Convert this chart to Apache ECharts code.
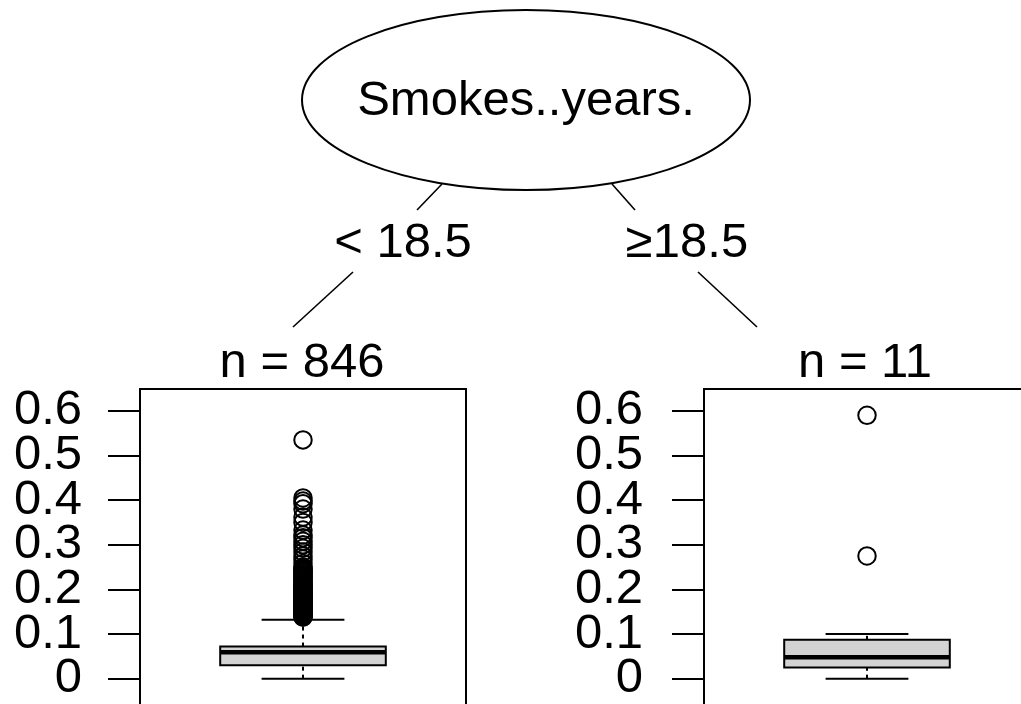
<!DOCTYPE html>
<html>
<head>
<meta charset="utf-8">
<title>Smokes..years. tree</title>
<script src="https://cdn.jsdelivr.net/npm/echarts@6/dist/echarts.min.js"></script>
<style>
  html, body { margin: 0; padding: 0; background: #fff; }
  #chart { width: 1021px; height: 704px; }
</style>
</head>
<body>
<div id="chart"></div>
<script>
// Split variable and branch labels of the root node
const splitVariable = 'Smokes..years.';
const branchLabels = ['< 18.5', '\u226518.5'];

// Terminal nodes: sizes and boxplot summaries [min, q1, median, q3, max]
const nodeSizes = [846, 11];
const leftBox = [0, 0.030, 0.059, 0.072, 0.132];
const rightBox = [0, 0.025, 0.048, 0.087, 0.100];

// Points beyond the whiskers
const leftOutliers = [
  0.535, 0.405, 0.398, 0.392, 0.380, 0.362, 0.350, 0.333, 0.322, 0.316,
  0.308, 0.300, 0.292, 0.284, 0.275, 0.268, 0.258, 0.250, 0.247, 0.244,
  0.241, 0.238, 0.236, 0.233, 0.230, 0.227, 0.225, 0.222, 0.219, 0.217,
  0.214, 0.212, 0.209, 0.207, 0.204, 0.202, 0.200, 0.198, 0.195, 0.193,
  0.191, 0.189, 0.187, 0.185, 0.183, 0.181, 0.179, 0.177, 0.175, 0.173,
  0.171, 0.169, 0.167, 0.166, 0.164, 0.162, 0.160, 0.158, 0.157, 0.155,
  0.153, 0.151, 0.150, 0.148, 0.146, 0.145, 0.143, 0.142, 0.140, 0.139,
  0.138
];
const rightOutliers = [0.590, 0.275];

// Y axis tick positions
const yTicks = [0, 0.1, 0.2, 0.3, 0.4, 0.5, 0.6];

// Common y scale for both terminal panels: data range padded by 10%
const allValues = leftBox.concat(rightBox, leftOutliers, rightOutliers);
const dataMin = Math.min.apply(null, allValues);
const dataMax = Math.max.apply(null, allValues);
const pad = 0.1 * (dataMax - dataMin);
const yLo = dataMin - pad;
const yHi = dataMax + pad;

// The labels are taller than the tick spacing, so the ticks are split over two
// coincident axes (even / odd ticks) to keep every label visible.
const evenTicks = yTicks.filter((v, i) => i % 2 === 0);
const oddTicks = yTicks.filter((v, i) => i % 2 === 1);

const FONT = 'Liberation Sans, Arial, Helvetica, sans-serif';
const INK = '#000';
const TEXT_FONT = '49px ' + FONT;

// Boxplot with half-width staples and dashed whiskers
function renderBox(params, api) {
  const c = api.value(0);
  const pMin = api.coord([c, api.value(1)]);
  const pQ1 = api.coord([c, api.value(2)]);
  const pMed = api.coord([c, api.value(3)]);
  const pQ3 = api.coord([c, api.value(4)]);
  const pMax = api.coord([c, api.value(5)]);
  const band = api.size([1, 0])[0];
  const bw = band * 0.508;
  const x = pMin[0];
  const half = bw / 2;
  const staple = bw / 4;
  const dash = { stroke: INK, lineWidth: 2, lineDash: [4, 4] };
  const solid = { stroke: INK, lineWidth: 2 };
  return {
    type: 'group',
    children: [
      { type: 'line', shape: { x1: x, y1: pMin[1], x2: x, y2: pQ1[1] }, style: dash },
      { type: 'line', shape: { x1: x, y1: pQ3[1], x2: x, y2: pMax[1] }, style: dash },
      { type: 'line', shape: { x1: x - staple, y1: pMin[1], x2: x + staple, y2: pMin[1] }, style: solid },
      { type: 'line', shape: { x1: x - staple, y1: pMax[1], x2: x + staple, y2: pMax[1] }, style: solid },
      { type: 'rect', shape: { x: x - half, y: pQ3[1], width: bw, height: pQ1[1] - pQ3[1] },
        style: { fill: '#d3d3d3', stroke: INK, lineWidth: 2 } },
      { type: 'line', shape: { x1: x - half, y1: pMed[1], x2: x + half, y2: pMed[1] },
        style: { stroke: INK, lineWidth: 4.5 } }
    ]
  };
}

function yAxisFor(gridIndex, ticks, labelMargin) {
  return {
    type: 'value', gridIndex: gridIndex, position: 'left', offset: 0,
    min: yLo, max: yHi,
    axisLine: { show: true, lineStyle: { color: INK, width: 2 } },
    axisTick: { show: true, length: 32, lineStyle: { color: INK, width: 2 }, customValues: ticks },
    axisLabel: { show: true, customValues: ticks, margin: labelMargin, color: INK,
      fontSize: 49, fontFamily: FONT, showMinLabel: true, showMaxLabel: true },
    splitLine: { show: false }
  };
}

function xAxisFor(gridIndex) {
  return {
    type: 'category', gridIndex: gridIndex, data: ['node'],
    axisLine: { show: false }, axisTick: { show: false }, axisLabel: { show: false },
    splitLine: { show: false }
  };
}

function outlierSeries(xIndex, yIndex, values) {
  return {
    type: 'scatter', xAxisIndex: xIndex, yAxisIndex: yIndex,
    symbol: 'circle', symbolSize: 17.5, z: 5,
    itemStyle: { color: 'rgba(0,0,0,0)', borderColor: INK, borderWidth: 2, opacity: 1 },
    data: values.map(v => [0, v]),
    silent: true
  };
}

function boxSeries(xIndex, yIndex, stats) {
  return {
    type: 'custom', xAxisIndex: xIndex, yAxisIndex: yIndex,
    renderItem: renderBox, z: 3, silent: true,
    encode: { x: 0, y: [1, 2, 3, 4, 5] },
    data: [[0].concat(stats)]
  };
}

const label = (t, x, y) => ({
  type: 'text', x: x, y: y,
  style: { text: t, fill: INK, font: TEXT_FONT, align: 'center', verticalAlign: 'middle' }
});
const seg = (x1, y1, x2, y2) => ({
  type: 'line', shape: { x1: x1, y1: y1, x2: x2, y2: y2 },
  style: { stroke: INK, lineWidth: 1.6 }
});

const chart = echarts.init(document.getElementById('chart'), null, { renderer: 'canvas' });

chart.setOption({
  backgroundColor: '#fff',
  animation: false,
  grid: [
    { left: 140, right: 555, top: 389, bottom: -1, show: true, borderColor: INK, borderWidth: 2,
      outerBoundsMode: 'none', containLabel: false },
    { left: 704, right: -9, top: 389, bottom: -1, show: true, borderColor: INK, borderWidth: 2,
      outerBoundsMode: 'none', containLabel: false }
  ],
  xAxis: [xAxisFor(0), xAxisFor(1)],
  yAxis: [
    yAxisFor(0, evenTicks, 58), yAxisFor(0, oddTicks, 58),
    yAxisFor(1, evenTicks, 61), yAxisFor(1, oddTicks, 61)
  ],
  series: [
    boxSeries(0, 0, leftBox),
    boxSeries(1, 2, rightBox),
    outlierSeries(0, 0, leftOutliers),
    outlierSeries(1, 2, rightOutliers)
  ],
  graphic: [
    // inner node
    { type: 'ellipse', shape: { cx: 526, cy: 100, rx: 224, ry: 90 },
      style: { fill: '#fff', stroke: INK, lineWidth: 2 } },
    label(splitVariable, 526, 101),
    // edges to the terminal nodes, broken around the branch labels
    seg(442, 184, 417, 210), seg(353, 272, 293, 327),
    seg(612, 184, 635, 210), seg(698, 272, 757, 327),
    label(branchLabels[0], 403, 243),
    label(branchLabels[1], 687, 243),
    // terminal node headers
    label('n = ' + nodeSizes[0], 302, 363),
    label('n = ' + nodeSizes[1], 865, 363)
  ]
});
</script>
</body>
</html>
